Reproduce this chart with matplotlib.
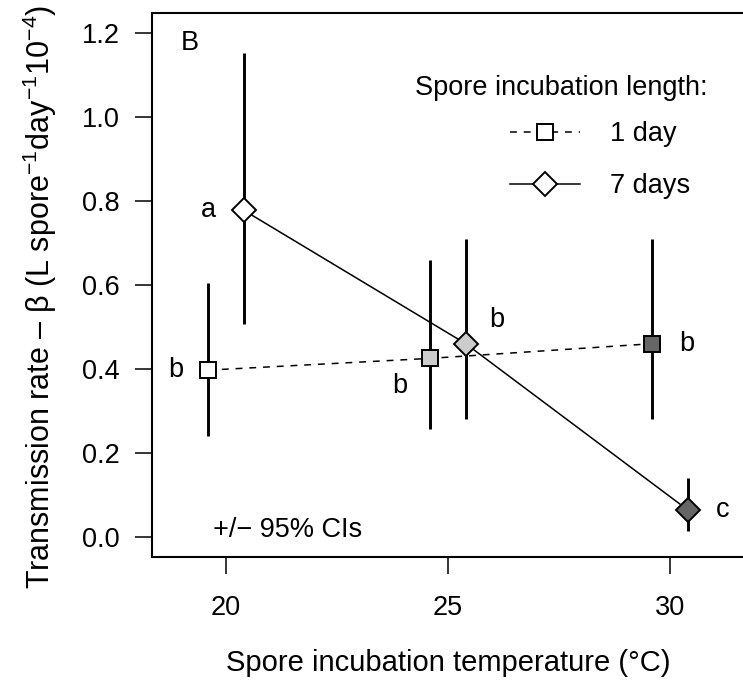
import matplotlib
matplotlib.use("Agg")
import matplotlib.pyplot as plt
from matplotlib.lines import Line2D

plt.rcParams['font.family'] = ['Liberation Sans', 'DejaVu Sans']
plt.rcParams['mathtext.fontset'] = 'custom'
plt.rcParams['mathtext.rm'] = 'Liberation Sans'
plt.rcParams['mathtext.it'] = 'Liberation Sans:italic'
plt.rcParams['mathtext.default'] = 'regular'

# values (beta, 95% CI limits)
temps = [20, 25, 30]
beta_1d = [0.398, 0.426, 0.461]
lo_1d = [0.241, 0.257, 0.281]
hi_1d = [0.605, 0.661, 0.710]
beta_7d = [0.779, 0.461, 0.065]
lo_7d = [0.509, 0.281, 0.015]
hi_7d = [1.154, 0.710, 0.140]
letters_1d = ['b', 'b', 'b']
letters_7d = ['a', 'b', 'c']
fills = ['white', '#CCCCCC', '#666666']

dodge = 0.4
fs = 19.5
fs_lab = 21


def main():
    fig = plt.figure(figsize=(7.43, 6.81), dpi=100)
    ax = fig.add_axes([0.2042, 0.1816, 0.7985, 0.7988])

    x1 = [t - dodge for t in temps]
    x7 = [t + dodge for t in temps]

    # CIs
    ax.vlines(x1, lo_1d, hi_1d, color='black', lw=2.1, zorder=2)
    ax.vlines(x7, lo_7d, hi_7d, color='black', lw=2.1, zorder=2)

    # connecting lines
    ax.plot(x1, beta_1d, color='black', lw=1.1, dashes=(4.5, 4.5), zorder=3)
    ax.plot(x7, beta_7d, color='black', lw=1.1, zorder=3)

    # points
    for i in range(3):
        ax.plot(x1[i], beta_1d[i], marker='s', ms=11.5, mfc=fills[i],
                mec='black', mew=1.4, ls='none', zorder=4)
        ax.plot(x7[i], beta_7d[i], marker='D', ms=11.8, mfc=fills[i],
                mec='black', mew=1.4, ls='none', zorder=4)

    # significance letters
    off_1d = [(-23, 0), (-21.6, -20), (25, 0)]
    off_7d = [(-25, 0), (22.5, 17), (25, 0)]
    for i in range(3):
        ax.annotate(letters_1d[i], (x1[i], beta_1d[i]), xytext=off_1d[i],
                    textcoords='offset points', ha='center', va='center', fontsize=fs)
        ax.annotate(letters_7d[i], (x7[i], beta_7d[i]), xytext=off_7d[i],
                    textcoords='offset points', ha='center', va='center', fontsize=fs)

    ax.set_xlim(18.33, 31.69)
    ax.set_ylim(-0.048, 1.248)
    ax.set_xticks(temps)
    ax.set_yticks([0.0, 0.2, 0.4, 0.6, 0.8, 1.0, 1.2])
    ax.set_yticklabels(['0.0', '0.2', '0.4', '0.6', '0.8', '1.0', '1.2'])
    ax.tick_params(direction='out', length=12, width=1.1, labelsize=fs)
    ax.tick_params(axis='x', pad=15)
    ax.tick_params(axis='y', pad=11)
    for s in ax.spines.values():
        s.set_linewidth(1.5)

    ax.set_xlabel('Spore incubation temperature (\u00b0C)', fontsize=fs_lab, labelpad=20)
    ax.set_ylabel('Transmission rate \u2013 \u03b2 (L spore$^{\u22121}$day$^{\u22121}$10$^{\u22124}$)',
                  fontsize=22)
    ax.yaxis.set_label_coords(-0.156, 0.4785)

    ax.text(0.0646, 0.945, 'B', transform=ax.transAxes, ha='center', va='center', fontsize=fs)
    ax.text(0.1028, 0.0502, '+/\u2212 95% CIs', transform=ax.transAxes, ha='left',
            va='center', fontsize=fs)

    # legend
    ax.text(0.690, 0.8627, 'Spore incubation length:', transform=ax.transAxes,
            ha='center', va='center', fontsize=fs)
    h1 = Line2D([], [], color='black', lw=1.1, dashes=(4.5, 4.5), marker='s', ms=11.5,
                mfc='white', mec='black', mew=1.4)
    h7 = Line2D([], [], color='black', lw=1.1, marker='D', ms=11.8,
                mfc='white', mec='black', mew=1.4)
    ax.legend([h1, h7], ['1 day', '7 days'], loc='center left', bbox_to_anchor=(0.604, 0.730),
              frameon=False, fontsize=fs, handlelength=2.6, handletextpad=1.1,
              labelspacing=0.97, borderpad=0, borderaxespad=0)

    fig.savefig('out.png', dpi=100)


if __name__ == "__main__":
    main()
